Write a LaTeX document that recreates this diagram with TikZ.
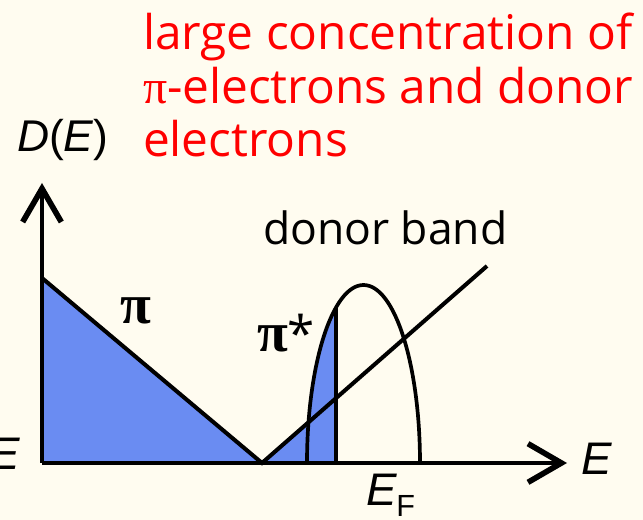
\documentclass[tikz,border=0pt]{standalone}
\usepackage{fontspec}
\setmainfont{Open Sans}
\newfontfamily\axisfont{Liberation Sans}
\newfontfamily\greekfont{Liberation Serif}
\usetikzlibrary{arrows.meta}
\definecolor{paper}   {HTML}{FFFCF0}
\definecolor{headline}{HTML}{FF0000}
\definecolor{filled}  {HTML}{6A8CF2}
\definecolor{ink}     {HTML}{000000}

\begin{document}
\begin{tikzpicture}[x=0.02cm, y=-0.02cm,
    axis/.style={ink, line width=2.8pt,
      -{Straight Barb[length=19pt, width=22pt, line width=3.2pt]}},
    dos/.style={ink, line width=2.3pt, line join=miter},
    band/.style={ink, line width=2.1pt},
    every node/.style={inner sep=0pt, outer sep=0pt}]
  \fill[paper] (0,0) rectangle (643,520);
  \useasboundingbox (0,0) rectangle (643,520);

  \coordinate (origin) at (42,463);
  \coordinate (ytip)   at (42,183);
  \coordinate (xtip)   at (567,463);
  \coordinate (pitop)  at (42,278);
  \coordinate (gap)    at (262,463);
  \coordinate (vend)   at (487,266);
  \coordinate (bandL)  at (307,463);
  \coordinate (fermi)  at (336,463);
  \coordinate (fermitop) at (336,307);
  \coordinate (vcross) at (336,398);

  % occupied states
  \fill[filled] (origin) -- (pitop) -- (gap) -- cycle;
  \fill[filled] (gap) -- (vcross) -- (fermi) -- cycle;
  \begin{scope}
    \clip (gap) rectangle (fermitop |- 0,250);
    \fill[filled] (bandL) arc[start angle=180, end angle=360,
      x radius=56.5, y radius=178] -- cycle;
  \end{scope}

  \draw[dos] (pitop) -- (gap) -- (vend);
  \draw[band] (bandL) arc[start angle=180, end angle=360,
      x radius=56.5, y radius=178];
  \draw[band] (fermi) -- (fermitop);
  \draw[axis] (origin) -- (ytip);
  \draw[axis] (origin) -- (xtip);

  \foreach \txt [count=\i from 0] in {large concentration of,
      {{\greekfont π}-electrons and donor}, electrons}
    \node[text=headline, anchor=base west, font=\fontsize{27.2}{30}\selectfont]
      (line\i) at (143,{50+53.5*\i}) {\txt};

  \node[anchor=base west, font=\fontsize{25.3}{30}\selectfont]
    (donor) at (263,245) {donor band};
  \node[anchor=base, font=\greekfont\bfseries\fontsize{32}{36}\selectfont]
    (pilabel) at (136,324) {π};
  \node[anchor=base west, font=\greekfont\bfseries\fontsize{32}{36}\selectfont]
    (pistar) at (257,352) {π{\rmfamily\mdseries\fontsize{28}{30}\selectfont*}};

  \node[anchor=base west, font=\axisfont\fontsize{25.3}{30}\selectfont]
    (dlabel) at (17,152) {\textit{D}(\textit{E})};
  \node[anchor=base east, font=\axisfont\itshape\fontsize{26}{30}\selectfont]
    (eleft) at (20,470) {E};
  \node[anchor=base west, font=\axisfont\itshape\fontsize{26}{30}\selectfont]
    (eright) at (581,475) {E};
  \node[anchor=base west, font=\axisfont\fontsize{26}{30}\selectfont]
    (efermi) at (366,505) {\itshape E\upshape\raisebox{-6.8pt}{\fontsize{17.4}{20}\selectfont F}};
\end{tikzpicture}
\end{document}
